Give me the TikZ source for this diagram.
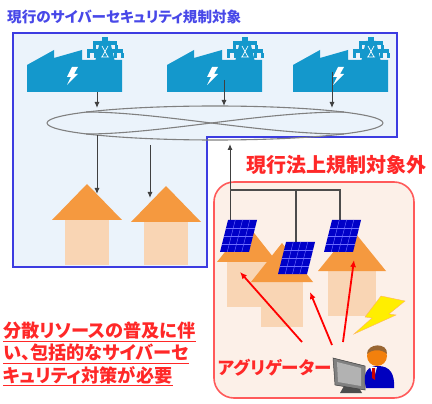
\documentclass[tikz,border=0pt]{standalone}
\usepackage{fontspec}
\newfontfamily\jpfont[RawFeature=+palt]{Noto Sans CJK JP}
\usetikzlibrary{arrows.meta}

\definecolor{titleblue}{RGB}{72,72,232}
\definecolor{zoneblue}{RGB}{60,60,225}
\definecolor{zonefill}{RGB}{235,243,251}
\definecolor{plant}{RGB}{20,152,204}
\definecolor{rooforange}{RGB}{245,153,63}
\definecolor{wallpeach}{RGB}{249,213,180}
\definecolor{outred}{RGB}{255,90,90}
\definecolor{outfill}{RGB}{252,240,232}
\definecolor{alertred}{RGB}{255,40,40}
\definecolor{cellblue}{RGB}{0,0,200}
\definecolor{cellgrid}{RGB}{110,110,255}
\definecolor{bolt}{RGB}{255,238,0}

\begin{document}
\begin{tikzpicture}[
    x=1pt, y=-1pt,
    flow/.style={draw=black!75, line width=1pt, -{Latex[length=6pt,width=5pt]}},
    ring/.style={draw=black!50, line width=1.1pt},
    wire/.style={draw=black!70, line width=1.2pt},
    push/.style={draw=red, line width=1.8pt, -{Latex[length=7pt,width=6pt]}},
    roof/.style={fill=rooforange},
    wall/.style={fill=wallpeach},
    cell/.style={fill=cellblue},
    jtext/.style={inner sep=0pt, anchor=west}
]
    \useasboundingbox (0,0) rectangle (432,404);

    % Zona regulada
    \draw[draw=zoneblue, fill=zonefill, line width=2pt]
        (13,33) -- (397,33) -- (397,137) -- (207,137) -- (207,267) -- (13,267) -- cycle;
    \node[jtext, font=\jpfont\bfseries\fontsize{14.6}{14.6}\selectfont, text=titleblue] (title) at (7,17) {現行のサイバーセキュリティ規制対象};

    % Centrales
    \foreach \x in {27,167,293} {
        \begin{scope}[shift={(\x,92)}]
            \fill[plant] (0,-27) -- (27,-42) -- (27,-34) -- (55,-42) -- (55,-32)
                -- (95,-32) -- (95,0) -- (0,0) -- cycle;
            % torre
            \fill[plant] (73,-51) -- (83,-51) -- (88,-30) -- (68,-30) -- cycle;
            \fill[plant] (75,-55) rectangle (81,-50);
            \fill[plant] (66,-51) rectangle (90,-47);
            \fill[plant] (60,-43) rectangle (96,-39);
            \foreach \i in {61,68,88,95} \fill[plant] (\i-1.5,-39) rectangle (\i+1.5,-34);
            \foreach \i in {67,89} \fill[plant] (\i-1.5,-47) rectangle (\i+1.5,-43);
            \draw[white, line width=0.7pt] (75,-46) -- (81,-35) (81,-46) -- (75,-35) (74,-35) -- (82,-35);
            % rayo
            \fill[white] (45,-25) -- (51,-25) -- (47,-18) -- (51,-18) -- (40,-7) -- (44,-15) -- (40,-15) -- cycle;
        \end{scope}
    }

    % Red de transmision
    \draw[ring] (215,123) ellipse [x radius=168, y radius=17];
    \draw[ring] (86,112) .. controls (160,112) and (260,134) .. (344,134);
    \draw[ring] (86,134) .. controls (160,134) and (260,112) .. (344,112);

    \coordinate (f1) at (97,92);   \coordinate (r1) at (97,108);
    \coordinate (f2) at (224,80);  \coordinate (r2) at (224,106);
    \coordinate (f3) at (332,72);  \coordinate (r3) at (332,108);
    \draw[flow] (f1) -- (r1);
    \draw[flow] (f2) -- (r2);
    \draw[flow] (f3) -- (r3);

    % Casas
    \foreach \x/\y in {87/184,166/186} {
        \fill[wall] (\x-22,\y+36) rectangle (\x+22,265);
        \fill[roof] (\x-35,\y+36) -- (\x,\y) -- (\x+35,\y+36) -- cycle;
    }
    \coordinate (d1) at (97,135);  \coordinate (h1) at (97,194);
    \coordinate (d2) at (150,145); \coordinate (h2) at (150,198);
    \draw[flow] (d1) -- (h1);
    \draw[flow] (d2) -- (h2);

    % Recursos distribuidos
    \draw[draw=outred, fill=outfill, line width=1.6pt, rounded corners=20pt] (214,182) rectangle (414,398);
    \node[jtext, font=\jpfont\bfseries\fontsize{20}{20}\selectfont, text=alertred] (outside) at (246,165) {現行法上規制対象外};

    \foreach \x/\y/\w in {247/224/30,282/243/31,352/229/34} {
        \fill[wall] (\x-\w+10,\y+\w+8) rectangle (\x+\w-10,\y+\w+53);
        \fill[roof] (\x-\w,\y+\w+8) -- (\x,\y) -- (\x+\w,\y+\w+8) -- cycle;
    }

    \coordinate (p1) at (230,221);  \coordinate (g1) at (230,144);
    \draw[flow] (p1) -- (g1);
    \draw[wire] (230,190) -- (340,190) -- (340,236);
    \draw[wire] (296,190) -- (296,250);

    \foreach \a/\b in {228/220,286/242,332/220} {
        \fill[cell] (\a,\b) -- (\a+29,\b) -- (\a+21,\b+32) -- (\a-8,\b+32) -- cycle;
        \foreach \i in {1,2,3} {
            \draw[cellgrid, line width=0.4pt] (\a+29*\i/4,\b) -- (\a-8+29*\i/4,\b+32);
            \draw[cellgrid, line width=0.4pt] (\a-2*\i,\b+8*\i) -- (\a+29-2*\i,\b+8*\i);
        }
    }

    % Agregador
    \coordinate (a1) at (302,342); \coordinate (t1) at (240,272);
    \coordinate (a2) at (332,345); \coordinate (t2) at (310,292);
    \coordinate (a3) at (343,342); \coordinate (t3) at (354,260);
    \draw[push] (a1) -- (t1);
    \draw[push] (a2) -- (t2);
    \draw[push] (a3) -- (t3);

    \fill[bolt, draw=orange!60, line width=0.4pt]
        (381,296) -- (405,301) -- (389,314) -- (396,315) -- (354,334) -- (372,318) -- (365,317) -- cycle;

    \fill[black!70] (344,386) -- (358,386) -- (362,393) -- (340,393) -- cycle;
    \fill[black!50, draw=black!75, line width=0.5pt] (333,358) -- (365,366) -- (365,390) -- (335,385) -- cycle;
    \fill[black!30] (337,362) -- (361,368) -- (361,386) -- (338,382) -- cycle;
    \fill[blue!75!black] (366,388) .. controls (362,372) and (368,366) .. (378,366)
        .. controls (390,366) and (395,374) .. (394,388) -- cycle;
    \fill[white] (370,367) -- (377,367) -- (374,378) -- cycle;
    \fill[red!80!black] (372,368) -- (375,368) -- (375,380) -- (372,378) -- cycle;
    \fill[orange!80!brown] (377,356) circle [radius=10];
    \fill[brown!80!black] (367,354) .. controls (367,343) and (388,342) .. (387,354)
        .. controls (382,349) and (372,349) .. (367,354) -- cycle;

    \node[jtext, font=\jpfont\bfseries\fontsize{17.5}{17.5}\selectfont, text=alertred] (agg) at (218,368) {アグリゲーター};

    % Mensaje
    \foreach \n/\y/\t in {w1/331/分散リソースの普及に伴,w2/353/い、包括的なサイバーセ,w3/375/キュリティ対策が必要} {
        \node[jtext, font=\jpfont\bfseries\fontsize{18.2}{18.2}\selectfont, text=alertred] (\n) at (3,\y) {\t};
        \draw[alertred, line width=1pt] ([yshift=-1.5pt]\n.south west) -- ([yshift=-1.5pt]\n.south east);
    }
\end{tikzpicture}
\end{document}
